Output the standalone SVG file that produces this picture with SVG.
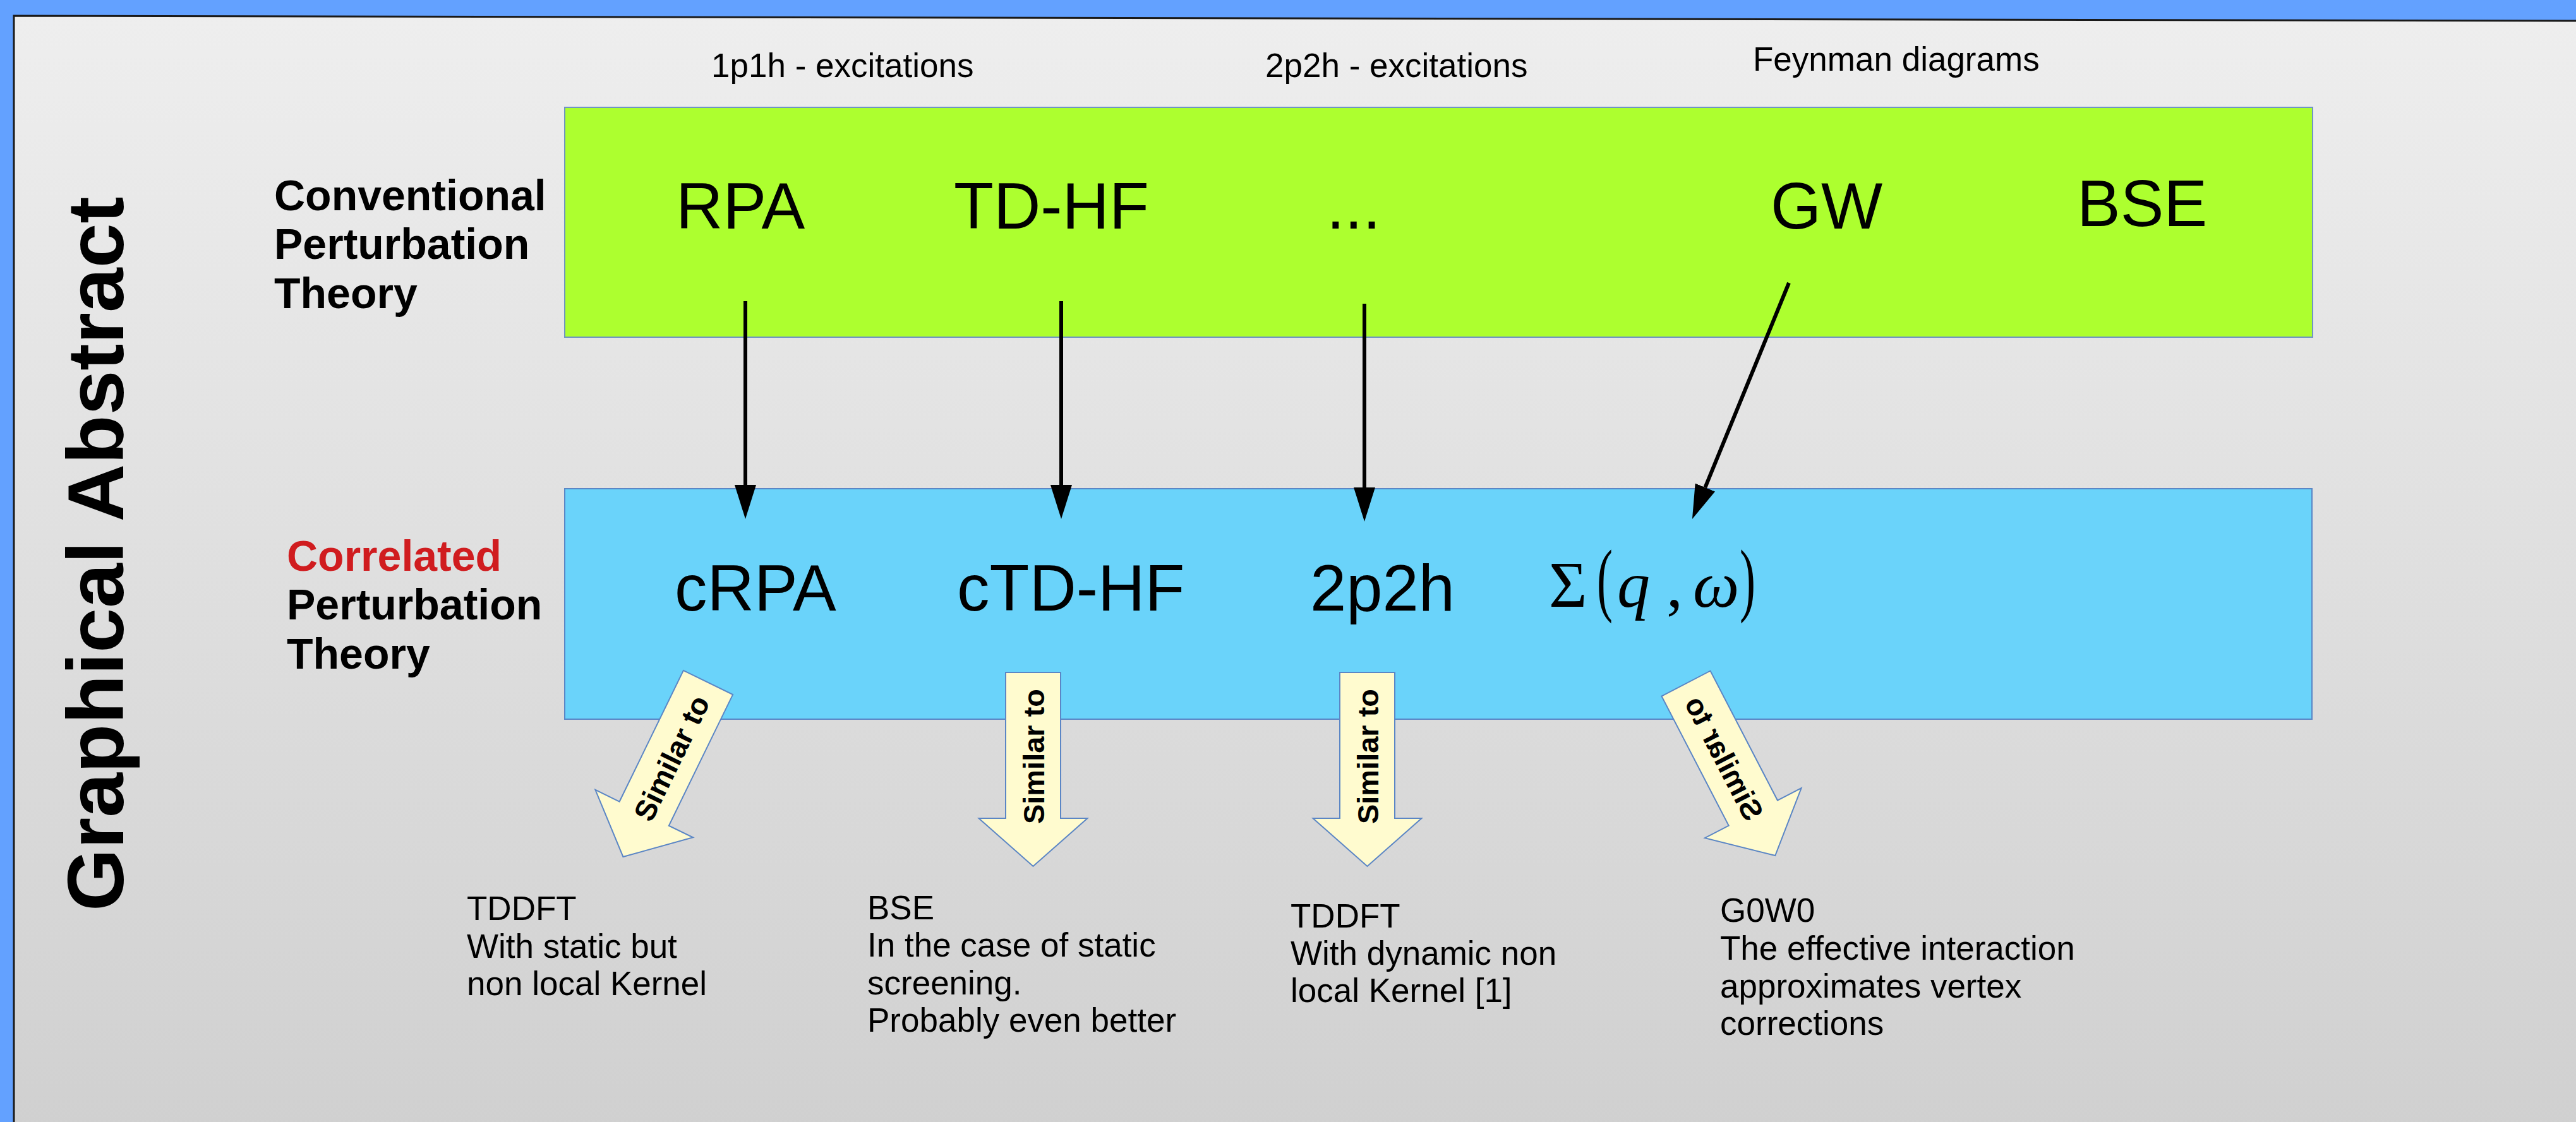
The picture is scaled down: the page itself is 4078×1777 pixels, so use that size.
<svg xmlns="http://www.w3.org/2000/svg" width="4078" height="1777" viewBox="0 0 4078 1777">
<style>
.sans{font-family:"Liberation Sans",Arial,sans-serif;fill:#000}
.bold{font-weight:bold}
.big{font-size:103px}
.lbl{font-size:68px;font-weight:bold}
.note{font-size:53px}
.sim{font-size:47px;font-weight:bold}
.math{font-family:"Liberation Serif","Times New Roman",serif;fill:#000}
.conn{stroke:#000;stroke-width:6;fill:none}
.blk{fill:#fffbcf;stroke:#5b86c5;stroke-width:2}
</style>
<defs>
<linearGradient id="bg" x1="0" y1="0" x2="0" y2="1">
<stop offset="0" stop-color="#eeeeee"/>
<stop offset="1" stop-color="#d0d0d0"/>
</linearGradient>
<marker id="ah" markerUnits="userSpaceOnUse" markerWidth="60" markerHeight="40" refX="0" refY="17" orient="auto">
<path d="M0,0 L54,17 L0,34 Z" fill="#000"/>
</marker>
<path id="blockArrow" d="M-43.5,0 L43.5,0 L43.5,231 L86,231 L0,307 L-86,231 L-43.5,231 Z"/>
</defs>
<rect x="0" y="0" width="4078" height="1777" fill="#63a1ff"/>
<polygon points="22,25 4090,33 4090,1790 22,1790" fill="url(#bg)" stroke="#1a1a1a" stroke-width="3"/>
<g id="title">
<text class="sans bold" font-size="127" transform="translate(195,1443) rotate(-90)">Graphical Abstract</text>
</g>
<g id="row-labels">
<text class="sans lbl" x="434" y="333">Conventional</text>
<text class="sans lbl" x="434" y="410">Perturbation</text>
<text class="sans lbl" x="434" y="488">Theory</text>
<text class="sans lbl" x="454" y="904" style="fill:#d01c1f">Correlated</text>
<text class="sans lbl" x="454" y="981">Perturbation</text>
<text class="sans lbl" x="454" y="1059">Theory</text>
</g>
<g id="headers">
<text class="sans note" x="1126" y="122">1p1h - excitations</text>
<text class="sans note" x="2003" y="122">2p2h - excitations</text>
<text class="sans note" x="2775" y="112">Feynman diagrams</text>
</g>
<g id="conventional">
<rect x="894" y="170" width="2767" height="364" fill="#adff2f" stroke="#6f94c4" stroke-width="2"/>
<text class="sans big" x="1070" y="362">RPA</text>
<text class="sans big" x="1510" y="362">TD-HF</text>
<text class="sans big" x="2100" y="362">...</text>
<text class="sans big" x="2803" y="362">GW</text>
<text class="sans big" x="3288" y="358">BSE</text>
</g>
<g id="correlated">
<rect x="894" y="774" width="2766" height="365" fill="#6ad3fa" stroke="#5b86c5" stroke-width="2"/>
<text class="sans big" x="1068" y="967">cRPA</text>
<text class="sans big" x="1515" y="967">cTD-HF</text>
<text class="sans big" x="2074" y="967">2p2h</text>
<text class="math" y="961"><tspan x="2452" font-size="104">Σ</tspan><tspan x="2560" font-size="104" font-style="italic">q</tspan><tspan x="2638" font-size="104">,</tspan><tspan x="2680" font-size="104" font-style="italic">ω</tspan></text>
<text class="math" font-size="100" transform="translate(2528,960) scale(0.75,1.3)">(</text>
<text class="math" font-size="100" transform="translate(2754,960) scale(0.75,1.3)">)</text>
</g>
<g id="connectors">
<line class="conn" x1="1180" y1="477" x2="1180" y2="768" marker-end="url(#ah)"/>
<line class="conn" x1="1680" y1="477" x2="1680" y2="768" marker-end="url(#ah)"/>
<line class="conn" x1="2160" y1="481" x2="2160" y2="772" marker-end="url(#ah)"/>
<line class="conn" x1="2832" y1="448" x2="2699.4" y2="772" marker-end="url(#ah)"/>
</g>
<g id="similar-1" transform="translate(1121,1081) rotate(26)">
<use href="#blockArrow" class="blk"/>
<text class="sans sim" text-anchor="middle" transform="translate(17,133) rotate(-90)">Similar to</text>
</g>
<g id="similar-2" transform="translate(1635.5,1065)">
<use href="#blockArrow" class="blk"/>
<text class="sans sim" text-anchor="middle" transform="translate(17,133) rotate(-90)">Similar to</text>
</g>
<g id="similar-3" transform="translate(2164.5,1065)">
<use href="#blockArrow" class="blk"/>
<text class="sans sim" text-anchor="middle" transform="translate(17,133) rotate(-90)">Similar to</text>
</g>
<g id="similar-4" transform="translate(2669,1082.5) rotate(-27.4)">
<use href="#blockArrow" class="blk"/>
<text class="sans sim" text-anchor="middle" transform="translate(-17,133) rotate(-90) scale(1,-1)">Similar to</text>
</g>
<g id="note-1">
<text class="sans note" x="739" y="1457">TDDFT</text>
<text class="sans note" x="739" y="1517">With static but</text>
<text class="sans note" x="739" y="1576">non local Kernel</text>
</g>
<g id="note-2">
<text class="sans note" x="1373" y="1456">BSE</text>
<text class="sans note" x="1373" y="1515">In the case of static</text>
<text class="sans note" x="1373" y="1575">screening.</text>
<text class="sans note" x="1373" y="1634">Probably even better</text>
</g>
<g id="note-3">
<text class="sans note" x="2043" y="1469">TDDFT</text>
<text class="sans note" x="2043" y="1528">With dynamic non</text>
<text class="sans note" x="2043" y="1587">local Kernel [1]</text>
</g>
<g id="note-4">
<text class="sans note" x="2723" y="1460">G0W0</text>
<text class="sans note" x="2723" y="1520">The effective interaction</text>
<text class="sans note" x="2723" y="1580">approximates vertex</text>
<text class="sans note" x="2723" y="1639">corrections</text>
</g>
</svg>
